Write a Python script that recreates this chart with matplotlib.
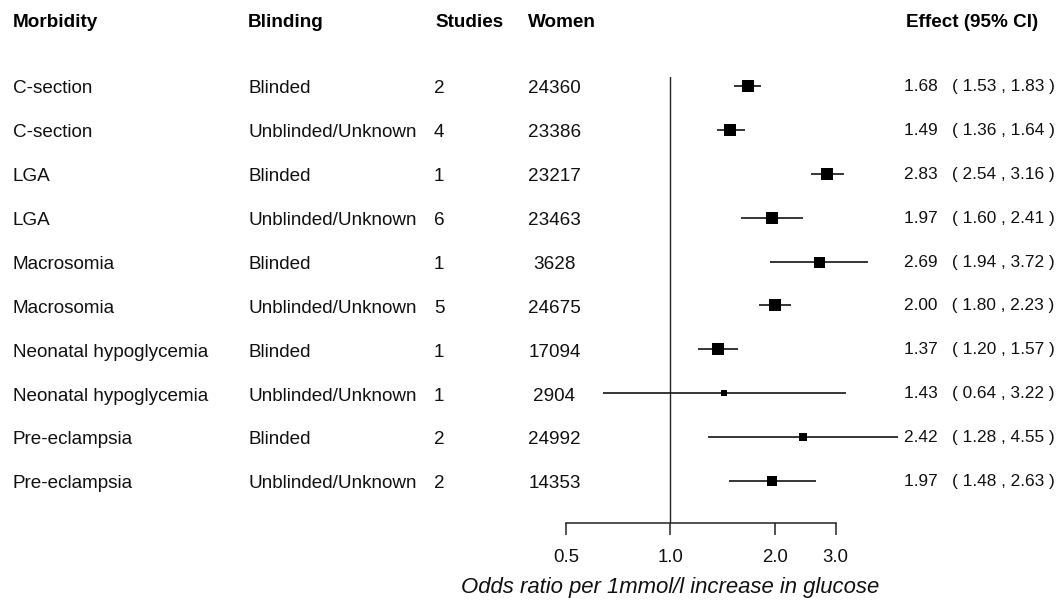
import matplotlib
matplotlib.use("Agg")
import matplotlib.pyplot as plt
import matplotlib.transforms as mtransforms

plt.rcParams['font.family'] = ['Liberation Sans', 'DejaVu Sans']

# ---- data ----
morbidity = ["C-section", "C-section", "LGA", "LGA", "Macrosomia", "Macrosomia",
             "Neonatal hypoglycemia", "Neonatal hypoglycemia", "Pre-eclampsia", "Pre-eclampsia"]
blinding = ["Blinded", "Unblinded/Unknown"] * 5
studies = [2, 4, 1, 6, 1, 5, 1, 1, 2, 2]
women = [24360, 23386, 23217, 23463, 3628, 24675, 17094, 2904, 24992, 14353]
effect = [1.68, 1.49, 2.83, 1.97, 2.69, 2.00, 1.37, 1.43, 2.42, 1.97]
lower = [1.53, 1.36, 2.54, 1.60, 1.94, 1.80, 1.20, 0.64, 1.28, 1.48]
upper = [1.83, 1.64, 3.16, 2.41, 3.72, 2.23, 1.57, 3.22, 4.55, 2.63]
headers = ["Morbidity", "Blinding", "Studies", "Women", "Effect (95% CI)"]
xticks = [0.5, 1.0, 2.0, 3.0]
xtick_labels = ["0.5", "1.0", "2.0", "3.0"]
xlabel = "Odds ratio per 1mmol/l increase in glucose"

# ---- styles ----
box_px = [12, 12, 11.5, 12, 11, 11.3, 11.7, 5.3, 8, 10.7]

W, H = 1063, 604
fig = plt.figure(figsize=(W / 100, H / 100), dpi=100)

# forest axes geometry (pixels)
L_px, R_px = 566, 905
top_px, bot_px = 77, 522.5
row0_px, row_step = 86, 43.89
px_per_doubling = 104.35
n = len(effect)

ax = fig.add_axes([L_px / W, 1 - bot_px / H, (R_px - L_px) / W, (bot_px - top_px) / H])
ax.set_xscale('log')
ax.set_xlim(0.5, 0.5 * 2 ** ((R_px - L_px) / px_per_doubling))
ymin = (top_px - row0_px) / row_step
ymax = (bot_px - row0_px) / row_step
ax.set_ylim(ymax, ymin)
ax.set_facecolor('none')

for s in ['top', 'right', 'left']:
    ax.spines[s].set_visible(False)
ax.spines['bottom'].set_bounds(0.5, 3.0)
ax.spines['bottom'].set_linewidth(1.1)
ax.spines['bottom'].set_color('#222222')
ax.set_yticks([])
ax.set_xticks(xticks)
ax.set_xticklabels(xtick_labels)
ax.xaxis.set_minor_locator(matplotlib.ticker.NullLocator())
ax.tick_params(axis='x', direction='out', length=8.5, width=1.1, color='#222222',
               pad=10.5, labelsize=13.4, labelcolor='#111111')

ax.axvline(1.0, color='#222222', lw=1.0, zorder=1)

for i in range(n):
    ax.plot([lower[i], upper[i]], [i, i], color='black', lw=1.1, zorder=2, solid_capstyle='butt')
    ax.plot([effect[i]], [i], marker='s', color='black', markersize=box_px[i] * 0.72,
            markeredgewidth=0, zorder=3)

# x-axis label centred on the reference line
tlab = mtransforms.blended_transform_factory(ax.transData, fig.transFigure)
ax.text(1.0, 1 - 592.5 / H, xlabel, transform=tlab, ha='center', va='baseline',
        fontsize=15.9, fontstyle='italic', color='#111111')

# text columns
trans = mtransforms.blended_transform_factory(fig.transFigure, ax.transData)
trans_body = mtransforms.offset_copy(trans, fig=fig, x=0, y=-7.3, units='dots')
trans_eff = mtransforms.offset_copy(trans, fig=fig, x=0, y=-5.0, units='dots')
fs = 13.6
tc = '#111111'
for i in range(n):
    ax.text(13 / W, i, morbidity[i], transform=trans_body, ha='left', va='baseline', fontsize=fs, color=tc)
    ax.text(248 / W, i, blinding[i], transform=trans_body, ha='left', va='baseline', fontsize=fs, color=tc)
    ax.text(434 / W, i, str(studies[i]), transform=trans_body, ha='left', va='baseline', fontsize=fs, color=tc)
    ax.text(554.5 / W, i, str(women[i]), transform=trans_body, ha='center', va='baseline', fontsize=fs, color=tc)
    s = f"{effect[i]:.2f}   ( {lower[i]:.2f} , {upper[i]:.2f} )"
    ax.text(904 / W, i, s, transform=trans_eff, ha='left', va='baseline', fontsize=12.4, color=tc)

hx = [13, 248, 435, 528, 906]
for x, h in zip(hx, headers):
    fig.text(x / W, 1 - 26.7 / H, h, ha='left', va='baseline', fontsize=13.6,
             fontweight='bold', color='black')

fig.savefig("out.png", dpi=100)
